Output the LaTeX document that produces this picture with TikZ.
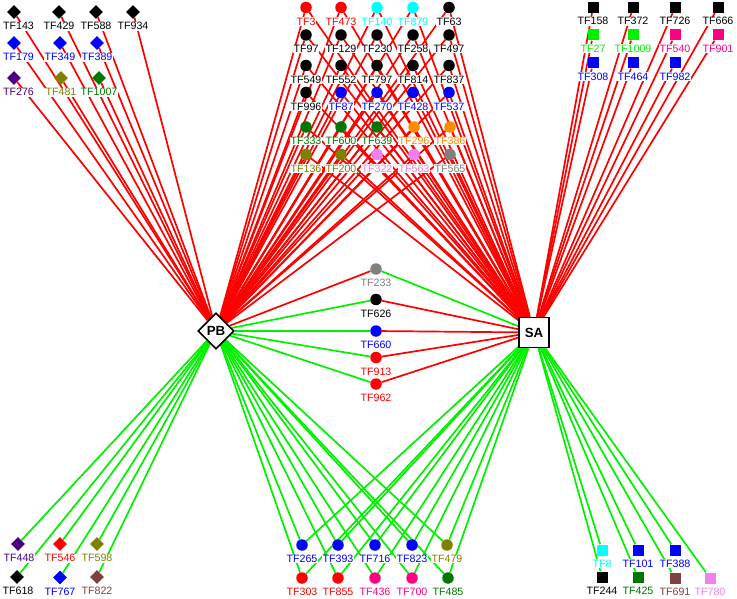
\documentclass[tikz,border=0pt]{standalone}
\usepackage{fontspec}
\setmainfont{Liberation Sans}
\usetikzlibrary{shapes.geometric, positioning}
\usepackage{xcolor}

\definecolor{tfindigo}{RGB}{75,0,130}
\definecolor{tfolive}{RGB}{128,128,0}
\definecolor{tfgreen}{RGB}{0,120,0}
\definecolor{tflime}{RGB}{0,240,0}
\definecolor{tfcyan}{RGB}{0,255,255}
\definecolor{tforange}{RGB}{255,140,0}
\definecolor{tfviolet}{RGB}{238,130,238}
\definecolor{tfgray}{RGB}{128,128,128}
\definecolor{tfpink}{RGB}{255,0,128}
\definecolor{tfbrown}{RGB}{128,64,64}

\pgfdeclarelayer{edges}
\pgfsetlayers{edges,main}

\tikzset{
  tfdia/.style={diamond, minimum size=14pt, inner sep=0pt},
  tfdot/.style={circle, minimum size=11.5pt, inner sep=0pt},
  tfsq/.style={rectangle, minimum size=11pt, inner sep=0pt},
  lab/.style={fill=white, inner sep=0.6pt, font=\fontsize{10.67}{12}\selectfont},
  hub/.style={draw=black, fill=white, line width=1.6pt, inner sep=0pt,
    font=\fontsize{13.3}{15}\selectfont\bfseries},
  redge/.style={red, line width=1.7pt},
  gedge/.style={tflime, line width=1.7pt},
}

\begin{document}
\begin{tikzpicture}[x=1pt, y=-1pt, node distance=3.4pt]
      \useasboundingbox (0,0) rectangle (737,599);

      % hubs
      \node[hub, diamond, minimum size=36pt] (pb) at (216,331) {PB};
      \node[hub, rectangle, minimum size=30pt] (sa) at (534,332.5) {SA};

      % top left
      \node[tfdia, fill=black] (tf143) at (14,12) {};
      \node[tfdia, fill=black] (tf429) at (59,12) {};
      \node[tfdia, fill=black] (tf588) at (96,12) {};
      \node[tfdia, fill=black] (tf934) at (133,12) {};
      \node[tfdia, fill=blue] (tf179) at (14,43) {};
      \node[tfdia, fill=blue] (tf349) at (60,43) {};
      \node[tfdia, fill=blue] (tf389) at (97,43) {};
      \node[tfdia, fill=tfindigo] (tf276) at (14,78) {};
      \node[tfdia, fill=tfolive] (tf481) at (61,78) {};
      \node[tfdia, fill=tfgreen] (tf1007) at (99,78) {};

      % top middle
      \node[tfdot, fill=red] (tf3) at (306,7.5) {};
      \node[tfdot, fill=red] (tf473) at (341,7.5) {};
      \node[tfdot, fill=tfcyan] (tf140) at (377,7.5) {};
      \node[tfdot, fill=tfcyan] (tf879) at (413,7.5) {};
      \node[tfdot, fill=black] (tf63) at (449,7.5) {};
      \node[tfdot, fill=black] (tf97) at (306,35) {};
      \node[tfdot, fill=black] (tf129) at (341,35) {};
      \node[tfdot, fill=black] (tf230) at (377,35) {};
      \node[tfdot, fill=black] (tf258) at (413,35) {};
      \node[tfdot, fill=black] (tf497) at (449,35) {};
      \node[tfdot, fill=black] (tf549) at (306,65.5) {};
      \node[tfdot, fill=black] (tf552) at (341,65.5) {};
      \node[tfdot, fill=black] (tf797) at (377,65.5) {};
      \node[tfdot, fill=black] (tf814) at (413,65.5) {};
      \node[tfdot, fill=black] (tf837) at (449,65.5) {};
      \node[tfdot, fill=black] (tf996) at (306,92.5) {};
      \node[tfdot, fill=blue] (tf87) at (341,92.5) {};
      \node[tfdot, fill=blue] (tf270) at (377,92.5) {};
      \node[tfdot, fill=blue] (tf428) at (413,92.5) {};
      \node[tfdot, fill=blue] (tf537) at (449,92.5) {};
      \node[tfdot, fill=tfgreen] (tf333) at (306,127) {};
      \node[tfdot, fill=tfgreen] (tf600) at (341,127) {};
      \node[tfdot, fill=tfgreen] (tf639) at (377,127) {};
      \node[tfdot, fill=tforange] (tf296) at (414,127) {};
      \node[tfdot, fill=tforange] (tf386) at (450,127) {};
      \node[tfdot, fill=tfolive] (tf136) at (306,154.5) {};
      \node[tfdot, fill=tfolive] (tf200) at (341,154.5) {};
      \node[tfdot, fill=tfviolet] (tf322) at (377,154.5) {};
      \node[tfdot, fill=tfviolet] (tf563) at (414,154.5) {};
      \node[tfdot, fill=tfgray] (tf565) at (450,154.5) {};

      % top right
      \node[tfsq, fill=black] (tf158) at (593,7.5) {};
      \node[tfsq, fill=black] (tf372) at (633,7.5) {};
      \node[tfsq, fill=black] (tf726) at (675,7.5) {};
      \node[tfsq, fill=black] (tf666) at (718,7.5) {};
      \node[tfsq, fill=tflime] (tf27) at (593,35) {};
      \node[tfsq, fill=tflime] (tf1009) at (633,35) {};
      \node[tfsq, fill=tfpink] (tf540) at (675,35) {};
      \node[tfsq, fill=tfpink] (tf901) at (718,35) {};
      \node[tfsq, fill=blue] (tf308) at (593,63) {};
      \node[tfsq, fill=blue] (tf464) at (633,63) {};
      \node[tfsq, fill=blue] (tf982) at (675,63) {};

      % between the hubs
      \node[tfdot, fill=tfgray] (tf233) at (376,269) {};
      \node[tfdot, fill=black] (tf626) at (376,299.5) {};
      \node[tfdot, fill=blue] (tf660) at (376,331) {};
      \node[tfdot, fill=red] (tf913) at (376,357.5) {};
      \node[tfdot, fill=red] (tf962) at (376,384) {};

      % bottom left
      \node[tfdia, fill=tfindigo] (tf448) at (18,544) {};
      \node[tfdia, fill=red] (tf546) at (60,544) {};
      \node[tfdia, fill=tfolive] (tf598) at (97,544) {};
      \node[tfdia, fill=black] (tf618) at (17,577) {};
      \node[tfdia, fill=blue] (tf767) at (60,577.5) {};
      \node[tfdia, fill=tfbrown] (tf822) at (97,577) {};

      % bottom middle
      \node[tfdot, fill=blue] (tf265) at (302,545) {};
      \node[tfdot, fill=blue] (tf393) at (338,545) {};
      \node[tfdot, fill=blue] (tf716) at (375,545) {};
      \node[tfdot, fill=blue] (tf823) at (412,545) {};
      \node[tfdot, fill=tfolive] (tf479) at (447,545) {};
      \node[tfdot, fill=red] (tf303) at (302,578) {};
      \node[tfdot, fill=red] (tf855) at (338,578) {};
      \node[tfdot, fill=tfpink] (tf436) at (375,578) {};
      \node[tfdot, fill=tfpink] (tf700) at (412,578) {};
      \node[tfdot, fill=tfgreen] (tf485) at (448,578) {};

      % bottom right
      \node[tfsq, fill=tfcyan] (tf8) at (602,550) {};
      \node[tfsq, fill=blue] (tf101) at (638,550) {};
      \node[tfsq, fill=blue] (tf388) at (675,550) {};
      \node[tfsq, fill=black] (tf244) at (602,577) {};
      \node[tfsq, fill=tfgreen] (tf425) at (638,577.5) {};
      \node[tfsq, fill=tfbrown] (tf691) at (675,578) {};
      \node[tfsq, fill=tfviolet] (tf780) at (710,578) {};

      % labels
      \node[lab, text=black, below=2.4pt of tf143, xshift=4.5pt] {TF143};
      \node[lab, text=black, below=2.4pt of tf429] {TF429};
      \node[lab, text=black, below=2.4pt of tf588] {TF588};
      \node[lab, text=black, below=2.4pt of tf934] {TF934};
      \node[lab, text=blue, below=2.4pt of tf179, xshift=4.5pt] {TF179};
      \node[lab, text=blue, below=2.4pt of tf349] {TF349};
      \node[lab, text=blue, below=2.4pt of tf389] {TF389};
      \node[lab, text=tfindigo, below=2.4pt of tf276, xshift=4.5pt] {TF276};
      \node[lab, text=tfolive, below=2.4pt of tf481] {TF481};
      \node[lab, text=tfgreen, below=2.4pt of tf1007] {TF1007};

      \node[lab, text=red, below=of tf3] {TF3};
      \node[lab, text=red, below=of tf473] {TF473};
      \node[lab, text=tfcyan, below=of tf140] {TF140};
      \node[lab, text=tfcyan, below=of tf879] {TF879};
      \node[lab, text=black, below=of tf63] {TF63};
      \node[lab, text=black, below=of tf97] {TF97};
      \node[lab, text=black, below=of tf129] {TF129};
      \node[lab, text=black, below=of tf230] {TF230};
      \node[lab, text=black, below=of tf258] {TF258};
      \node[lab, text=black, below=of tf497] {TF497};
      \node[lab, text=black, below=of tf549] {TF549};
      \node[lab, text=black, below=of tf552] {TF552};
      \node[lab, text=black, below=of tf797] {TF797};
      \node[lab, text=black, below=of tf814] {TF814};
      \node[lab, text=black, below=of tf837] {TF837};
      \node[lab, text=black, below=of tf996] {TF996};
      \node[lab, text=blue, below=of tf87] {TF87};
      \node[lab, text=blue, below=of tf270] {TF270};
      \node[lab, text=blue, below=of tf428] {TF428};
      \node[lab, text=blue, below=of tf537] {TF537};
      \node[lab, text=tfgreen, below=of tf333] {TF333};
      \node[lab, text=tfgreen, below=of tf600] {TF600};
      \node[lab, text=tfgreen, below=of tf639] {TF639};
      \node[lab, text=tforange, below=of tf296] {TF296};
      \node[lab, text=tforange, below=of tf386] {TF386};
      \node[lab, text=tfolive, below=of tf136] {TF136};
      \node[lab, text=tfolive, below=of tf200] {TF200};
      \node[lab, text=tfviolet, below=of tf322] {TF322};
      \node[lab, text=tfviolet, below=of tf563] {TF563};
      \node[lab, text=tfgray, below=of tf565] {TF565};

      \node[lab, text=black, below=of tf158] {TF158};
      \node[lab, text=black, below=of tf372] {TF372};
      \node[lab, text=black, below=of tf726] {TF726};
      \node[lab, text=black, below=of tf666] {TF666};
      \node[lab, text=tflime, below=of tf27] {TF27};
      \node[lab, text=tflime, below=of tf1009] {TF1009};
      \node[lab, text=tfpink, below=of tf540] {TF540};
      \node[lab, text=tfpink, below=of tf901] {TF901};
      \node[lab, text=blue, below=of tf308] {TF308};
      \node[lab, text=blue, below=of tf464] {TF464};
      \node[lab, text=blue, below=of tf982] {TF982};

      \node[lab, text=tfgray, below=of tf233] {TF233};
      \node[lab, text=black, below=of tf626] {TF626};
      \node[lab, text=blue, below=of tf660] {TF660};
      \node[lab, text=red, below=of tf913] {TF913};
      \node[lab, text=red, below=of tf962] {TF962};

      \node[lab, text=tfindigo, below=2.4pt of tf448, xshift=1pt] {TF448};
      \node[lab, text=red, below=2.4pt of tf546] {TF546};
      \node[lab, text=tfolive, below=2.4pt of tf598] {TF598};
      \node[lab, text=black, below=2.4pt of tf618, xshift=1pt] {TF618};
      \node[lab, text=blue, below=2.4pt of tf767] {TF767};
      \node[lab, text=tfbrown, below=2.4pt of tf822] {TF822};

      \node[lab, text=blue, below=of tf265] {TF265};
      \node[lab, text=blue, below=of tf393] {TF393};
      \node[lab, text=blue, below=of tf716] {TF716};
      \node[lab, text=blue, below=of tf823] {TF823};
      \node[lab, text=tfolive, below=of tf479] {TF479};
      \node[lab, text=red, below=of tf303] {TF303};
      \node[lab, text=red, below=of tf855] {TF855};
      \node[lab, text=tfpink, below=of tf436] {TF436};
      \node[lab, text=tfpink, below=of tf700] {TF700};
      \node[lab, text=tfgreen, below=of tf485] {TF485};

      \node[lab, text=tfcyan, below=of tf8] {TF8};
      \node[lab, text=blue, below=of tf101] {TF101};
      \node[lab, text=blue, below=of tf388] {TF388};
      \node[lab, text=black, below=of tf244] {TF244};
      \node[lab, text=tfgreen, below=of tf425] {TF425};
      \node[lab, text=tfbrown, below=of tf691] {TF691};
      \node[lab, text=tfviolet, below=of tf780] {TF780};

      \begin{pgfonlayer}{edges}
      % green: lower half
      \foreach \n in {tf448,tf546,tf598,tf618,tf767,tf822,
                      tf265,tf393,tf716,tf823,tf479,tf303,tf855,tf436,tf700,tf485,
                      tf626,tf660,tf913,tf962}
        \draw[gedge] (\n) -- (pb);
      \foreach \n in {tf8,tf101,tf388,tf244,tf425,tf691,tf780,
                      tf265,tf393,tf716,tf823,tf479,tf303,tf855,tf436,tf700,tf485,
                      tf233}
        \draw[gedge] (\n) -- (sa);

      % red: upper half
      \foreach \n in {tf143,tf429,tf588,tf934,tf179,tf349,tf389,tf276,tf481,tf1007,
                      tf3,tf473,tf140,tf879,tf63,tf97,tf129,tf230,tf258,tf497,
                      tf549,tf552,tf797,tf814,tf837,tf996,tf87,tf270,tf428,tf537,
                      tf333,tf600,tf639,tf296,tf386,tf136,tf200,tf322,tf563,tf565,
                      tf233}
        \draw[redge] (\n) -- (pb);
      \foreach \n in {tf158,tf372,tf726,tf666,tf27,tf1009,tf540,tf901,tf308,tf464,tf982,
                      tf3,tf473,tf140,tf879,tf63,tf97,tf129,tf230,tf258,tf497,
                      tf549,tf552,tf797,tf814,tf837,tf996,tf87,tf270,tf428,tf537,
                      tf333,tf600,tf639,tf296,tf386,tf136,tf200,tf322,tf563,tf565,
                      tf626,tf660,tf913,tf962}
        \draw[redge] (\n) -- (sa);
      \end{pgfonlayer}

    \end{tikzpicture}
\end{document}
